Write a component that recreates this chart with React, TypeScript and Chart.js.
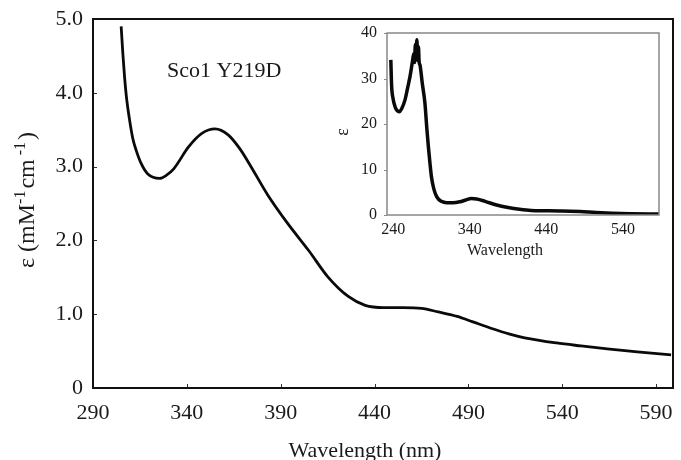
import { useEffect, useRef } from 'react';
import { Chart, registerables } from 'chart.js';

Chart.register(...registerables);

// ---- Main spectrum (Sco1 Y219D) ----
const mainWavelength = [305.0, 305.9, 306.8, 308.0, 309.5, 311.2, 313.0, 315.7, 319.2, 325.5, 329, 333, 341, 348, 355, 362, 368, 373, 383, 394, 405, 415, 426, 435, 445, 455, 465, 474, 484, 492, 502, 512, 520, 537, 550, 564, 580, 598];
const mainEpsilon = [4.90, 4.53, 4.22, 3.90, 3.63, 3.38, 3.22, 3.04, 2.90, 2.84, 2.88, 2.97, 3.27, 3.45, 3.51, 3.43, 3.25, 3.05, 2.62, 2.22, 1.86, 1.51, 1.24, 1.12, 1.09, 1.09, 1.08, 1.03, 0.97, 0.90, 0.81, 0.73, 0.68, 0.61, 0.57, 0.53, 0.49, 0.45];
const mainXTicks = [290, 340, 390, 440, 490, 540, 590];
const mainYTicks = [0, 1, 2, 3, 4, 5];

// ---- Inset spectrum (full range) ----
const insetWavelength = [237, 238, 240, 242.5, 245, 248, 251, 255.5, 259, 262, 265, 267, 268, 269, 270, 271, 272, 273, 274, 275, 278, 281.5, 284, 286, 288, 290, 293, 297, 303, 310, 318, 327, 335, 342, 349, 360, 375, 390, 405, 420, 440, 460, 484, 505, 526, 550, 587];
const insetEpsilon = [34.1, 28.5, 25.5, 23.8, 23.0, 22.7, 23.3, 25.3, 28.0, 30.4, 33.5, 35.5, 33.5, 37.5, 34.5, 38.5, 34.0, 37.0, 33.5, 33.0, 29.0, 24.6, 19.0, 15.0, 11.5, 8.4, 5.8, 4.0, 3.0, 2.7, 2.7, 2.9, 3.3, 3.6, 3.5, 3.0, 2.2, 1.65, 1.25, 1.0, 0.95, 0.9, 0.75, 0.55, 0.4, 0.3, 0.2];
const insetXTicks = [240, 340, 440, 540];
const insetYTicks = [0, 10, 20, 30, 40];

const sampleLabel = 'Sco1 Y219D';
const mainXTitle = 'Wavelength (nm)';
const insetXTitle = 'Wavelength';
const insetYTitle = 'ε';

const SERIF = '"Liberation Serif", "Times New Roman", serif';
const TEXT = '#1a1a1a';

const mainPlugin = {
  id: 'mainDecor',
  afterDraw(chart: any) {
    const { ctx, chartArea: a, scales } = chart;
    ctx.save();
    ctx.strokeStyle = '#333';
    ctx.lineWidth = 1;
    mainXTicks.forEach((v) => {
      const px = Math.round(scales.x.getPixelForValue(v)) + 0.5;
      ctx.beginPath();
      ctx.moveTo(px, a.bottom);
      ctx.lineTo(px, a.bottom - 4);
      ctx.stroke();
    });
    mainYTicks.forEach((v) => {
      const py = Math.round(scales.y.getPixelForValue(v)) + 0.5;
      ctx.beginPath();
      ctx.moveTo(a.left, py);
      ctx.lineTo(a.left + 4, py);
      ctx.stroke();
    });
    ctx.strokeStyle = '#111';
    ctx.lineWidth = 2;
    ctx.strokeRect(a.left, a.top, a.right - a.left, a.bottom - a.top);

    ctx.fillStyle = TEXT;
    ctx.font = `22px ${SERIF}`;
    ctx.textAlign = 'left';
    ctx.textBaseline = 'alphabetic';
    ctx.fillText(sampleLabel, 167, 77);

    ctx.textAlign = 'center';
    ctx.fillText(mainXTitle, 365, 457);

    // rotated y title with superscripts
    const parts = [
      { t: 'ε (mM', sup: false },
      { t: '-1', sup: true },
      { t: 'cm', sup: false },
      { t: ' -1', sup: true },
      { t: ')', sup: false },
    ];
    const baseFont = `24px ${SERIF}`;
    const supFont = `16px ${SERIF}`;
    let total = 0;
    const widths = parts.map((p) => {
      ctx.font = p.sup ? supFont : baseFont;
      const w = ctx.measureText(p.t).width + (p.sup ? 2 : 0);
      total += w;
      return w;
    });
    ctx.translate(34, 200);
    ctx.rotate(-Math.PI / 2);
    ctx.textAlign = 'left';
    let cx = -total / 2;
    parts.forEach((p, i) => {
      ctx.font = p.sup ? supFont : baseFont;
      ctx.fillText(p.t, cx, p.sup ? -9 : 0);
      cx += widths[i];
    });
    ctx.restore();
  },
};

const insetPlugin = {
  id: 'insetDecor',
  afterDraw(chart: any) {
    const { ctx, chartArea: a, scales } = chart;
    ctx.save();
    ctx.strokeStyle = '#888';
    ctx.lineWidth = 1;
    insetYTicks.forEach((v) => {
      const py = Math.round(scales.y.getPixelForValue(v)) + 0.5;
      ctx.beginPath();
      ctx.moveTo(a.left - 3, py);
      ctx.lineTo(a.left, py);
      ctx.stroke();
    });
    ctx.lineWidth = 1.5;
    ctx.strokeRect(a.left, a.top, a.right - a.left, a.bottom - a.top);

    ctx.fillStyle = TEXT;
    ctx.font = `16px ${SERIF}`;
    ctx.textAlign = 'center';
    ctx.textBaseline = 'alphabetic';
    // canvas is offset at (330, 20)
    ctx.fillText(insetXTitle, 505 - 330, 255 - 20);

    ctx.font = `18px ${SERIF}`;
    ctx.translate(343 - 330, 132 - 20);
    ctx.rotate(-Math.PI / 2);
    ctx.textBaseline = 'middle';
    ctx.fillText(insetYTitle, 0, 0);
    ctx.restore();
  },
};

export default function App() {
  const mainRef = useRef<HTMLCanvasElement>(null);
  const insetRef = useRef<HTMLCanvasElement>(null);

  useEffect(() => {
    const mainChart = new Chart(mainRef.current as HTMLCanvasElement, {
      type: 'scatter',
      data: {
        datasets: [
          {
            data: mainWavelength.map((x, i) => ({ x, y: mainEpsilon[i] })),
            showLine: true,
            borderColor: '#0a0a0a',
            borderWidth: 2.8,
            pointRadius: 0,
            cubicInterpolationMode: 'monotone',
          } as any,
        ],
      },
      options: {
        responsive: false,
        animation: false,
        layout: { padding: { top: 19, right: 8, left: 0, bottom: 0 } },
        plugins: { legend: { display: false }, tooltip: { enabled: false } },
        scales: {
          x: {
            type: 'linear',
            min: 290,
            max: 599,
            grid: { display: false, drawTicks: false },
            border: { display: false },
            ticks: {
              font: { family: SERIF, size: 22 },
              color: TEXT,
              padding: 12,
              maxRotation: 0,
              autoSkip: false,
              callback: (v: any) => String(v),
            },
            afterBuildTicks: (s: any) => {
              s.ticks = mainXTicks.map((v) => ({ value: v }));
            },
            afterFit: (s: any) => {
              s.height = 72;
              s.paddingLeft = 0;
              s.paddingRight = 0;
            },
          },
          y: {
            type: 'linear',
            min: 0,
            max: 5,
            grid: { display: false, drawTicks: false },
            border: { display: false },
            ticks: {
              font: { family: SERIF, size: 22 },
              color: TEXT,
              padding: 10,
              callback: (v: any) => (Number(v) === 0 ? '0' : Number(v).toFixed(1)),
            },
            afterBuildTicks: (s: any) => {
              s.ticks = mainYTicks.map((v) => ({ value: v }));
            },
            afterFit: (s: any) => {
              s.width = 93;
              s.paddingTop = 0;
              s.paddingBottom = 0;
            },
          },
        },
      },
      plugins: [mainPlugin],
    });

    const insetChart = new Chart(insetRef.current as HTMLCanvasElement, {
      type: 'scatter',
      data: {
        datasets: [
          {
            data: insetWavelength.map((x, i) => ({ x, y: insetEpsilon[i] })),
            showLine: true,
            borderColor: '#0a0a0a',
            borderWidth: 3.5,
            pointRadius: 0,
            cubicInterpolationMode: 'monotone',
          } as any,
        ],
      },
      options: {
        responsive: false,
        animation: false,
        layout: { padding: { top: 13, right: 11, left: 0, bottom: 0 } },
        plugins: { legend: { display: false }, tooltip: { enabled: false } },
        scales: {
          x: {
            type: 'linear',
            min: 232,
            max: 587,
            grid: { display: false, drawTicks: false },
            border: { display: false },
            ticks: {
              font: { family: SERIF, size: 16 },
              color: TEXT,
              padding: 5,
              maxRotation: 0,
              autoSkip: false,
              callback: (v: any) => String(v),
            },
            afterBuildTicks: (s: any) => {
              s.ticks = insetXTicks.map((v) => ({ value: v }));
            },
            afterFit: (s: any) => {
              s.height = 50;
              s.paddingLeft = 0;
              s.paddingRight = 0;
            },
          },
          y: {
            type: 'linear',
            min: 0,
            max: 40,
            grid: { display: false, drawTicks: false },
            border: { display: false },
            ticks: {
              font: { family: SERIF, size: 16 },
              color: TEXT,
              padding: 10,
              callback: (v: any) => String(v),
            },
            afterBuildTicks: (s: any) => {
              s.ticks = insetYTicks.map((v) => ({ value: v }));
            },
            afterFit: (s: any) => {
              s.width = 57;
              s.paddingTop = 0;
              s.paddingBottom = 0;
            },
          },
        },
      },
      plugins: [insetPlugin],
    });

    return () => {
      mainChart.destroy();
      insetChart.destroy();
    };
  }, []);

  return (
    <div style={{ position: 'absolute', left: 0, top: 0, width: 681, height: 460, background: '#fff' }}>
      <canvas ref={mainRef} width={681} height={460} style={{ position: 'absolute', left: 0, top: 0 }} />
      <canvas ref={insetRef} width={340} height={245} style={{ position: 'absolute', left: 330, top: 20 }} />
    </div>
  );
}
